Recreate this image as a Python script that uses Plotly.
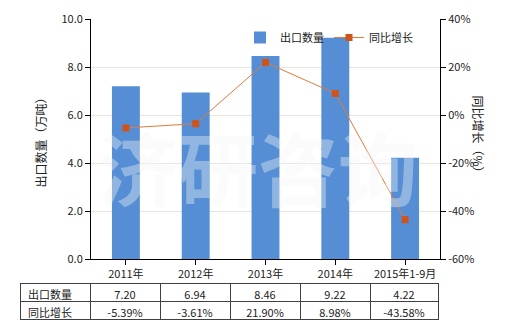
import plotly.graph_objects as go

categories = ["2011年", "2012年", "2013年", "2014年", "2015年1-9月"]
export_qty = [7.20, 6.94, 8.46, 9.22, 4.22]
yoy_growth = [-5.39, -3.61, 21.90, 8.98, -43.58]
qty_labels = ["7.20", "6.94", "8.46", "9.22", "4.22"]
growth_labels = ["-5.39%", "-3.61%", "21.90%", "8.98%", "-43.58%"]
left_ticks = [0, 2, 4, 6, 8, 10]
right_ticks = [-60, -40, -20, 0, 20, 40]

W, H = 520, 330
FONT = "Noto Sans CJK SC, Microsoft YaHei, sans-serif"
BLUE = "#558ed5"
ORANGE = "#d0541a"

def fx(px):
    return px / W

def fy(py):
    return 1 - py / H

fig = go.Figure()

fig.add_trace(go.Bar(
    x=categories, y=export_qty, name="出口数量",
    marker=dict(color=BLUE, line=dict(width=0)),
    width=0.4, xaxis="x", yaxis="y",
))
fig.add_trace(go.Scatter(
    x=categories, y=yoy_growth, name="同比增长",
    mode="lines+markers",
    line=dict(color="#e07b39", width=1),
    marker=dict(symbol="square", size=7, color=ORANGE),
    xaxis="x", yaxis="y2",
))

fig.add_trace(go.Table(
    domain=dict(x=[fx(20), fx(438)], y=[fy(322), fy(283)]),
    columnwidth=[70, 70, 70, 70, 70, 68],
    header=dict(
        values=["出口数量"] + qty_labels,
        fill_color="white",
        line=dict(color="#404040", width=1),
        align=["left"] + ["center"] * 5,
        font=dict(family=FONT, size=11, color="#222"),
        height=18,
    ),
    cells=dict(
        values=[["同比增长"]] + [[g] for g in growth_labels],
        fill_color="white",
        line=dict(color="#404040", width=1),
        align=["left"] + ["center"] * 5,
        font=dict(family=FONT, size=11, color="#222"),
        height=18,
    ),
))

fig.update_layout(
    width=W, height=H,
    margin=dict(l=0, r=0, t=0, b=0, autoexpand=False),
    paper_bgcolor="white", plot_bgcolor="white",
    font=dict(family=FONT, size=11, color="#222"),
    showlegend=True,
    legend=dict(
        orientation="h", x=fx(240), y=fy(23), xanchor="left", yanchor="top",
        bgcolor="rgba(0,0,0,0)", font=dict(size=11), itemwidth=30,
        traceorder="normal",
    ),
    xaxis=dict(
        domain=[fx(91), fx(440)], anchor="y",
        showline=True, linecolor="black", linewidth=1,
        ticks="outside", ticklen=5, tickcolor="black",
        showgrid=False, tickfont=dict(size=11), automargin=False,
    ),
    yaxis=dict(
        domain=[fy(259), fy(19)], range=[0, 10],
        tickvals=left_ticks, tickformat=".1f",
        showline=True, linecolor="black", linewidth=1,
        ticks="outside", ticklen=5, tickcolor="black",
        showgrid=True, gridcolor="#e8e6dc", gridwidth=1,
        zeroline=False, tickfont=dict(size=11), automargin=False,
    ),
    yaxis2=dict(
        overlaying="y", side="right", anchor="x",
        range=[-60, 40], tickvals=right_ticks,
        ticktext=[f"{v}%" for v in right_ticks],
        showline=True, linecolor="black", linewidth=1,
        ticks="outside", ticklen=5, tickcolor="black",
        showgrid=False, zeroline=False, tickfont=dict(size=11), automargin=False,
    ),
    annotations=[
        dict(text="出口数量（万吨）", x=fx(29), y=fy(140), xref="paper", yref="paper",
             showarrow=False, textangle=-90, font=dict(size=12)),
        dict(text="同比增长（%）", x=fx(489), y=fy(137), xref="paper", yref="paper",
             showarrow=False, textangle=90, font=dict(size=12)),
        dict(text="济研咨询", x=fx(258), y=fy(165), xref="paper", yref="paper",
             showarrow=False,
             font=dict(size=80, color="rgba(245,245,245,0.38)", family=FONT,
                       weight="bold")),
    ],
)

fig.write_html("out.html")
